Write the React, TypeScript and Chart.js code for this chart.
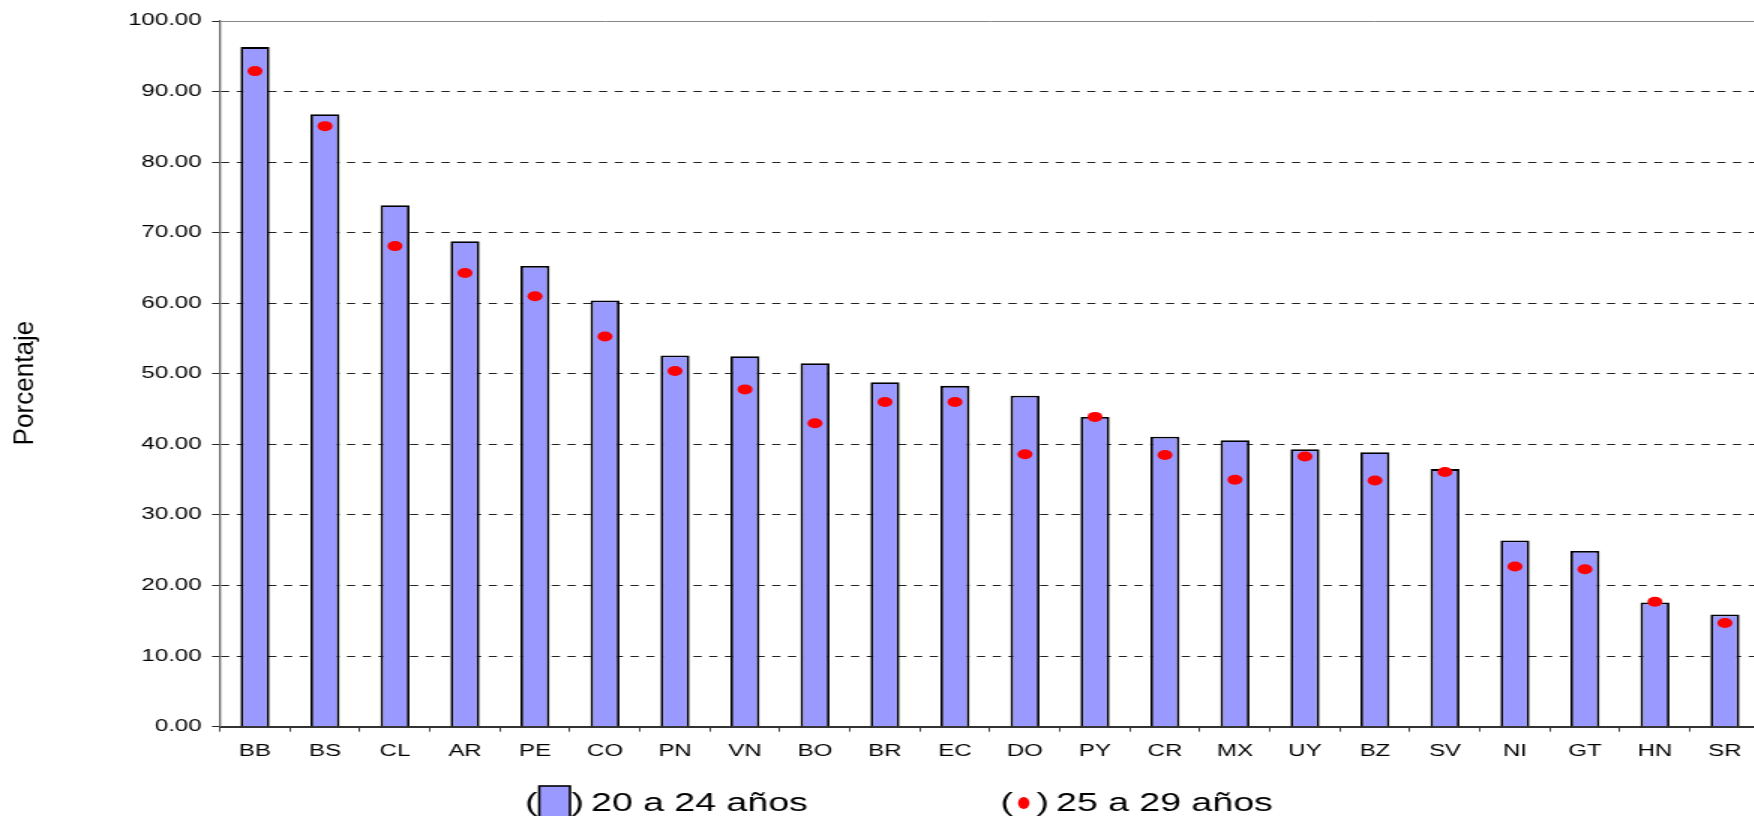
import React, { useEffect, useRef } from "react";
import { Chart, registerables } from "chart.js";

Chart.register(...registerables);

const countries = ["BB", "BS", "CL", "AR", "PE", "CO", "PN", "VN", "BO", "BR", "EC", "DO", "PY", "CR", "MX", "UY", "BZ", "SV", "NI", "GT", "HN", "SR"];
const ages20to24 = [96.3, 86.8, 73.9, 68.8, 65.3, 60.4, 52.6, 52.5, 51.5, 48.8, 48.3, 46.9, 43.9, 41.1, 40.6, 39.3, 38.9, 36.5, 26.4, 24.9, 17.6, 15.9];
const ages25to29 = [92.9, 85.1, 68.1, 64.3, 61.0, 55.3, 50.4, 47.8, 43.0, 46.0, 46.0, 38.6, 43.9, 38.5, 35.0, 38.3, 34.9, 36.1, 22.7, 22.3, 17.7, 14.7];
const seriesLabels = ["20 a 24 años", "25 a 29 años"];
const yTitle = "Porcentaje";

const STRETCH = 1.5;
const W = 1180;
const H = 830;
const FONT = "'Liberation Sans', Arial, sans-serif";

const decorPlugin = {
  id: "decor",
  afterDraw(chart: any) {
    const ctx = chart.ctx;
    // y title
    ctx.save();
    ctx.fillStyle = "#000";
    ctx.font = `18px ${FONT}`;
    ctx.translate(16.7, 383);
    ctx.rotate(-Math.PI / 2);
    ctx.scale(1.45, 1);
    ctx.textAlign = "center";
    ctx.textBaseline = "middle";
    ctx.fillText(yTitle, 0, 0);
    ctx.restore();

    // legend
    ctx.save();
    ctx.fillStyle = "#000";
    ctx.font = `25px ${FONT}`;
    ctx.textBaseline = "alphabetic";
    ctx.textAlign = "left";
    const base = 811;
    ctx.fillText("(", 350, base);
    ctx.fillStyle = "#9999FF";
    ctx.fillRect(359.5, 786, 20.5, 60);
    ctx.strokeStyle = "#000";
    ctx.lineWidth = 1.6;
    ctx.strokeRect(359.5, 786, 20.5, 60);
    ctx.fillStyle = "#000";
    ctx.fillText(")", 381, base);
    ctx.fillText(seriesLabels[0], 394, base);

    ctx.fillText("(", 667, base);
    ctx.fillStyle = "#FF0000";
    ctx.beginPath();
    ctx.ellipse(682.5, 803, 3.8, 6, 0, 0, Math.PI * 2);
    ctx.fill();
    ctx.fillStyle = "#000";
    ctx.fillText(")", 691, base);
    ctx.fillText(seriesLabels[1], 704, base);
    ctx.restore();
  },
};

export default function App() {
  const ref = useRef<HTMLCanvasElement | null>(null);
  useEffect(() => {
    if (!ref.current) return;
    Chart.defaults.font.family = FONT;
    const chart = new Chart(ref.current, {
      type: "bar",
      data: {
        labels: countries,
        datasets: [
          {
            type: "line",
            label: seriesLabels[1],
            data: ages25to29,
            showLine: false,
            pointRadius: 5,
            pointHoverRadius: 5,
            pointStyle: "circle",
            backgroundColor: "#FF0000",
            borderColor: "#FF0000",
            borderWidth: 0,
            order: 1,
          } as any,
          {
            type: "bar",
            label: seriesLabels[0],
            data: ages20to24,
            backgroundColor: "#9999FF",
            borderColor: "#000000",
            borderWidth: 1.8,
            barPercentage: 0.414,
            categoryPercentage: 1,
            order: 2,
          } as any,
        ],
      },
      options: {
        responsive: false,
        animation: false,
        devicePixelRatio: 1,
        layout: { padding: { top: 21, right: W - 1173.3, bottom: 0, left: 0 } },
        plugins: { legend: { display: false }, tooltip: { enabled: false } },
        scales: {
          x: {
            offset: true,
            grid: {
              offset: true,
              drawOnChartArea: false,
              drawTicks: true,
              tickLength: 5,
              color: "#444",
              tickColor: "#444",
              lineWidth: 1,
            },
            border: { display: true, color: "#333", width: 2 },
            ticks: { color: "#000", font: { size: 16, family: FONT }, padding: 10, maxRotation: 0, autoSkip: false },
            afterFit: (s: any) => {
              s.height = H - 726.7;
            },
          },
          y: {
            min: 0,
            max: 100,
            ticks: {
              stepSize: 10,
              color: "#000",
              font: { size: 16, family: FONT },
              padding: 7,
              callback: (v: any) => Number(v).toFixed(2),
            },
            grid: {
              drawTicks: true,
              tickLength: 5.3,
              tickColor: "#222",
              tickWidth: 1,
              lineWidth: 1,
              color: (c: any) => (c.index === 0 ? "rgba(0,0,0,0)" : c.index === 10 ? "#888" : "#222"),
            },
            border: {
              display: true,
              color: "#666",
              width: 1.3,
              dash: (c: any) => (c.index === 10 ? [] : [5.5, 5]),
            } as any,
            afterFit: (s: any) => {
              s.width = 146.67;
            },
          },
        },
      },
      plugins: [decorPlugin],
    });
    return () => chart.destroy();
  }, []);

  return (
    <div style={{ position: "fixed", left: 0, top: 0, width: 1754, height: 816, overflow: "hidden", background: "#fff" }}>
      <div style={{ transform: `scaleX(${STRETCH})`, transformOrigin: "0 0", width: W, height: H }}>
        <canvas ref={ref} width={W} height={H} style={{ width: W, height: H, display: "block" }} />
      </div>
    </div>
  );
}
